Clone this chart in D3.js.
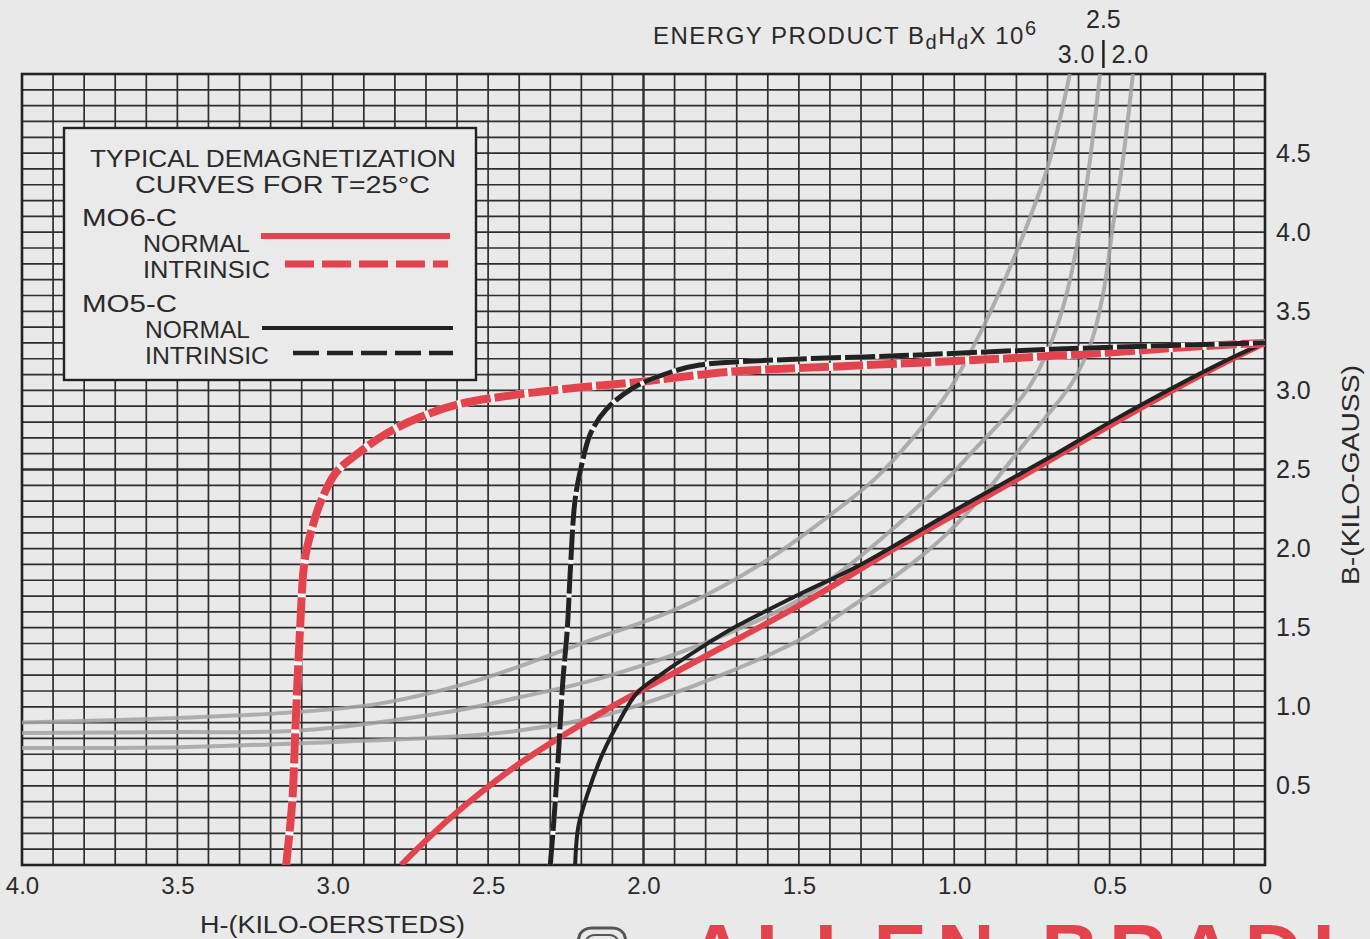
<!DOCTYPE html>
<html>
<head>
<meta charset="utf-8">
<script src="https://cdn.jsdelivr.net/npm/d3@7"></script>
<style>
  body { margin: 0; background: #e9e9e9; }
  text { font-family: "Liberation Sans", Arial, sans-serif; fill: #2a2a2a; }
</style>
</head>
<body>
<script>
"use strict"

// axis ticks (kilo-oersteds / kilo-gauss)
const hTicks = [4.0, 3.5, 3.0, 2.5, 2.0, 1.5, 1.0, 0.5, 0];
const hTickLabels = ["4.0", "3.5", "3.0", "2.5", "2.0", "1.5", "1.0", "0.5", "0"];
const bTicks = [0.5, 1.0, 1.5, 2.0, 2.5, 3.0, 3.5, 4.0, 4.5];
const bTickLabels = ["0.5", "1.0", "1.5", "2.0", "2.5", "3.0", "3.5", "4.0", "4.5"];

// demagnetization curves, [H, B]
const m06Normal = [[2.78, 0], [2.62, 0.30], [2.40, 0.64], [2.13, 0.97], [1.81, 1.31], [1.49, 1.65],
  [1.175, 2.02], [0.85, 2.38], [0.48, 2.80], [0.155, 3.15], [0, 3.30]];
const m06Intrinsic = [[3.15, 0], [3.13, 0.41], [3.12, 0.87], [3.105, 1.50], [3.09, 1.93], [3.065, 2.14],
  [3.04, 2.29], [2.99, 2.48], [2.92, 2.60], [2.825, 2.73], [2.72, 2.83], [2.60, 2.91], [2.42, 2.97],
  [2.20, 3.02], [2.03, 3.05], [1.71, 3.12], [1.39, 3.15], [0.85, 3.20], [0.50, 3.24], [0.2, 3.28], [0, 3.30]];
const m05Normal = [[2.22, 0], [2.21, 0.24], [2.18, 0.45], [2.13, 0.71], [2.075, 0.92], [2.02, 1.09],
  [1.94, 1.21], [1.81, 1.38], [1.70, 1.51], [1.51, 1.70], [1.30, 1.90], [1.01, 2.23], [0.69, 2.58],
  [0.48, 2.82], [0.155, 3.16], [0, 3.30]];
const m05Intrinsic = [[2.30, 0], [2.29, 0.24], [2.275, 0.66], [2.26, 1.15], [2.245, 1.50], [2.235, 1.88],
  [2.22, 2.31], [2.20, 2.52], [2.17, 2.73], [2.12, 2.88], [2.03, 3.02], [1.92, 3.11], [1.82, 3.16],
  [1.60, 3.19], [1.17, 3.22], [0.69, 3.26], [0.2, 3.29], [0, 3.30]];

// energy product lines BdHd x 10^6
const energy30 = [[4.0, 0.90], [3.49, 0.93], [3.17, 0.96], [2.85, 1.02], [2.53, 1.17], [2.20, 1.40],
  [1.88, 1.63], [1.60, 1.93], [1.335, 2.31], [1.25, 2.45], [1.133, 2.70], [1.023, 2.98], [0.907, 3.40],
  [0.82, 3.78], [0.747, 4.14], [0.692, 4.46], [0.628, 5.0]];
const energy25 = [[4.0, 0.835], [3.49, 0.84], [3.105, 0.85], [2.62, 0.97], [2.40, 1.06], [2.14, 1.18],
  [1.82, 1.39], [1.50, 1.675], [1.335, 1.90], [1.23, 2.07], [1.12, 2.26], [1.023, 2.44], [0.933, 2.63],
  [0.837, 2.83], [0.756, 3.03], [0.685, 3.32], [0.637, 3.62], [0.595, 4.03], [0.563, 4.46], [0.531, 5.0]];
const energy20 = [[4.0, 0.74], [3.49, 0.745], [3.105, 0.77], [2.62, 0.81], [2.40, 0.85], [2.14, 0.94],
  [1.94, 1.06], [1.75, 1.20], [1.50, 1.42], [1.30, 1.675], [1.12, 1.93], [1.01, 2.12], [0.885, 2.39],
  [0.80, 2.60], [0.71, 2.82], [0.62, 3.05], [0.56, 3.30], [0.52, 3.62], [0.49, 4.03], [0.457, 4.46], [0.425, 5.0]];

const RED = "#e2434d";
const INK = "#222";

let width = 1370, height = 939;
let svg = d3.select("body").append("svg")
    .attr("width", width)
    .attr("height", height);

svg.append("rect").attr("width", width).attr("height", height).attr("fill", "#e9e9e9");

let x = d3.scaleLinear().domain([4, 0]).range([22, 1265]);
let y = d3.scaleLinear().domain([0, 5]).range([865, 74]);

svg.append("clipPath").attr("id", "plotClip")
  .append("rect")
    .attr("x", x(4)).attr("y", y(5))
    .attr("width", x(0) - x(4)).attr("height", y(0) - y(5));

/* grid: every 0.1 in H and B */
let grid = svg.append("g").attr("class", "grid");
d3.range(0, 41).forEach(i => {
    let h = i / 10;
    grid.append("line")
        .attr("x1", x(h)).attr("x2", x(h))
        .attr("y1", y(0)).attr("y2", y(5))
        .attr("stroke", "#2e2e2e")
        .attr("stroke-width", i === 20 ? 2.4 : 1.7);
});
d3.range(0, 51).forEach(i => {
    let b = i / 10;
    grid.append("line")
        .attr("x1", x(4)).attr("x2", x(0))
        .attr("y1", y(b)).attr("y2", y(b))
        .attr("stroke", "#2e2e2e")
        .attr("stroke-width", i === 25 ? 2.4 : 1.7);
});
svg.append("rect")
    .attr("x", x(4)).attr("y", y(5))
    .attr("width", x(0) - x(4)).attr("height", y(0) - y(5))
    .attr("fill", "none").attr("stroke", INK).attr("stroke-width", 2.6);

let line = d3.line()
    .x(d => x(d[0]))
    .y(d => y(d[1]))
    .curve(d3.curveCatmullRom.alpha(0.5));

let curves = svg.append("g").attr("clip-path", "url(#plotClip)");

/* energy product lines */
[energy30, energy25, energy20].forEach(data => {
    curves.append("path")
        .attr("d", line(data))
        .attr("fill", "none")
        .attr("stroke", "#a2a2a2")
        .attr("stroke-opacity", 0.85)
        .attr("stroke-width", 4);
});

/* normal curves */
curves.append("path").attr("d", line(m06Normal))
    .attr("fill", "none").attr("stroke", RED).attr("stroke-width", 6);
curves.append("path").attr("d", line(m05Normal))
    .attr("fill", "none").attr("stroke", INK).attr("stroke-width", 4);

/* intrinsic curves: dashes with white breaks */
function dashed(data, color, w, dash) {
    curves.append("path").attr("d", line(data))
        .attr("fill", "none").attr("stroke", "#f7f7f7").attr("stroke-width", w);
    curves.append("path").attr("d", line(data))
        .attr("fill", "none").attr("stroke", color).attr("stroke-width", w)
        .attr("stroke-dasharray", dash);
}
dashed(m06Intrinsic, RED, 8, "30,4");
dashed(m05Intrinsic, INK, 5, "30,4");

/* axes */
let xAxis = svg.append("g")
    .attr("transform", "translate(0," + y(0) + ")")
    .call(d3.axisBottom(x).tickValues(hTicks).tickSize(0).tickPadding(12)
        .tickFormat((d, i) => hTickLabels[i]));
xAxis.select(".domain").remove();
xAxis.selectAll("text")
    .style("font-family", "'Liberation Sans', Arial, sans-serif")
    .style("font-size", "24px")
    .attr("fill", "#2a2a2a");

let yAxis = svg.append("g")
    .attr("transform", "translate(" + x(0) + ",0)")
    .call(d3.axisRight(y).tickValues(bTicks).tickSize(0).tickPadding(11)
        .tickFormat((d, i) => bTickLabels[i]));
yAxis.select(".domain").remove();
yAxis.selectAll("text")
    .style("font-family", "'Liberation Sans', Arial, sans-serif")
    .style("font-size", "25px")
    .attr("fill", "#2a2a2a");

svg.append("text")
    .attr("x", 200).attr("y", 933)
    .attr("textLength", 265).attr("lengthAdjust", "spacingAndGlyphs")
    .style("font-size", "23px")
    .text("H-(KILO-OERSTEDS)");

svg.append("text")
    .attr("transform", "translate(1359,475) rotate(-90)")
    .attr("text-anchor", "middle")
    .attr("textLength", 220).attr("lengthAdjust", "spacingAndGlyphs")
    .style("font-size", "23px")
    .text("B-(KILO-GAUSS)");

/* energy product header */
let eTitle = svg.append("text")
    .attr("x", 653).attr("y", 44)
    .style("font-size", "24px")
    .style("letter-spacing", "1.5px");
eTitle.append("tspan").text("ENERGY PRODUCT B");
eTitle.append("tspan").attr("dy", 5).style("font-size", "20px").text("d");
eTitle.append("tspan").attr("dy", -5).text("H");
eTitle.append("tspan").attr("dy", 5).style("font-size", "20px").text("d");
eTitle.append("tspan").attr("dy", -5).text("X 10");
eTitle.append("tspan").attr("dy", -9).style("font-size", "20px").text("6");

let markX = x(0.52);
svg.append("text").attr("x", markX).attr("y", 28)
    .attr("text-anchor", "middle").style("font-size", "25px").text("2.5");
svg.append("text").attr("x", markX - 8).attr("y", 63)
    .attr("text-anchor", "end").style("font-size", "25px").style("letter-spacing", "1px").text("3.0");
svg.append("text").attr("x", markX + 8).attr("y", 63)
    .attr("text-anchor", "start").style("font-size", "25px").style("letter-spacing", "1px").text("2.0");
svg.append("line")
    .attr("x1", markX).attr("x2", markX)
    .attr("y1", 40).attr("y2", 68)
    .attr("stroke", INK).attr("stroke-width", 2.5);

/* legend box */
let legend = svg.append("g");
legend.append("rect")
    .attr("x", 64).attr("y", 128).attr("width", 412).attr("height", 252)
    .attr("fill", "#eaeaea").attr("stroke", INK).attr("stroke-width", 2.4);

function legendText(str, lx, ly, len, anchor) {
    legend.append("text")
        .attr("x", lx).attr("y", ly)
        .attr("text-anchor", anchor || "start")
        .attr("textLength", len).attr("lengthAdjust", "spacingAndGlyphs")
        .style("font-size", "24px")
        .text(str);
}
legendText("TYPICAL DEMAGNETIZATION", 90, 167, 366);
legendText("CURVES FOR T=25°C", 135, 193, 295);
legendText("MO6-C", 82, 226, 95);
legendText("NORMAL", 143, 252, 107);
legendText("INTRINSIC", 143, 278, 127);
legendText("MO5-C", 82, 312, 95);
legendText("NORMAL", 145, 338, 105);
legendText("INTRINSIC", 145, 364, 124);

legend.append("line").attr("x1", 261).attr("x2", 450).attr("y1", 236).attr("y2", 236)
    .attr("stroke", RED).attr("stroke-width", 6);
legend.append("line").attr("x1", 285).attr("x2", 448).attr("y1", 264).attr("y2", 264)
    .attr("stroke", RED).attr("stroke-width", 7).attr("stroke-dasharray", "29,8");
legend.append("line").attr("x1", 262).attr("x2", 453).attr("y1", 328).attr("y2", 328)
    .attr("stroke", INK).attr("stroke-width", 4);
legend.append("line").attr("x1", 293).attr("x2", 453).attr("y1", 353).attr("y2", 353)
    .attr("stroke", INK).attr("stroke-width", 4.5).attr("stroke-dasharray", "26,8");

/* maker's mark, cut off at the bottom edge as in the scan */
svg.append("path")
    .attr("d", "M572,960 L580,934 Q584,928 592,928 L612,928 Q620,928 624,934 L632,960")
    .attr("fill", "none").attr("stroke", "#555").attr("stroke-width", 3);
svg.append("path")
    .attr("d", "M580,960 L586,940 Q589,935 595,935 L609,935 Q615,935 618,940 L624,960")
    .attr("fill", "none").attr("stroke", "#555").attr("stroke-width", 2);
svg.append("text")
    .attr("x", 688).attr("y", 980)
    .style("font-size", "80px").style("font-weight", "bold")
    .style("letter-spacing", "10px")
    .style("fill", RED)
    .text("ALLEN-BRADLEY");
</script>
</body>
</html>
